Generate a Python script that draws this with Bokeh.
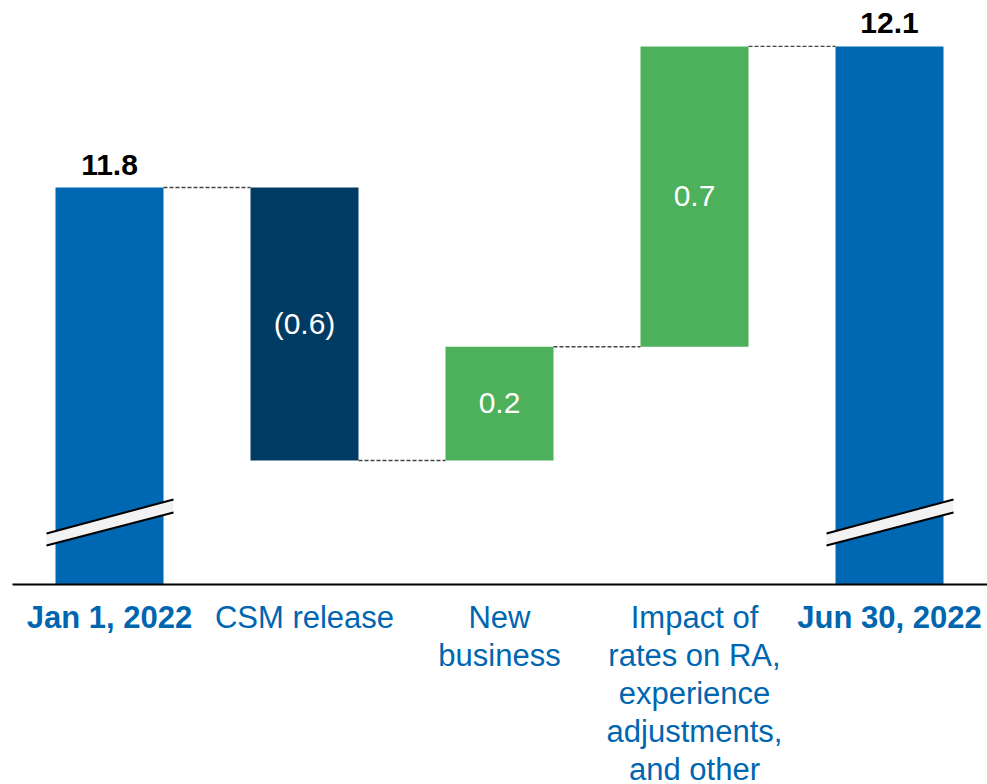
from bokeh.plotting import figure
from bokeh.models import Range1d
from bokeh.core.properties import value
from bokeh.embed import file_html
from bokeh.resources import INLINE

# ---- data ----
categories = ["Jan 1, 2022", "CSM release", "New\nbusiness",
              "Impact of\nrates on RA,\nexperience\nadjustments,\nand other",
              "Jun 30, 2022"]
start_value = 11.8
deltas = [-0.60, 0.25, 0.66]
end_value = 12.11
value_labels = ["11.8", "(0.6)", "0.2", "0.7", "12.1"]
bold_category = [True, False, False, False, True]

# ---- layout constants (pixels) ----
W, H = 987, 784
SCALE = 455.0          # px per unit
TOP_PX = 187.0         # pixel of start_value top
AXIS_PX = 584.0
X0_PX, DX_PX = 109.0, 195.0

y_top = start_value + TOP_PX / SCALE
y_bot = y_top - H / SCALE
base = y_top - AXIS_PX / SCALE

def px_x(px):
    return (px - X0_PX) / DX_PX

def px_y(py):
    return y_top - py / SCALE

BLUE = "#0067B2"
NAVY = "#003B64"
GREEN = "#4CB15A"
TXT_BLUE = "#0066B0"
FONT = value("Liberation Sans")

p = figure(width=W, height=H, output_backend="svg", toolbar_location=None,
           x_axis_type=None, y_axis_type=None, min_border=0,
           x_range=Range1d(px_x(0), px_x(W)), y_range=Range1d(y_bot, y_top))
p.outline_line_color = None
p.grid.visible = False
p.background_fill_color = "white"

# waterfall geometry
xs = list(range(len(categories)))
bottoms, tops, colors = [], [], []
bottoms.append(base); tops.append(start_value); colors.append(BLUE)
level = start_value
for d in deltas:
    new = level + d
    bottoms.append(min(level, new)); tops.append(max(level, new))
    colors.append(GREEN if d > 0 else NAVY)
    level = new
bottoms.append(base); tops.append(end_value); colors.append(BLUE)

BW = 108.0 / DX_PX
p.vbar(x=xs, width=BW, bottom=bottoms, top=tops, fill_color=colors, line_color=None)

# connectors
levels = [start_value]
lv = start_value
for d in deltas:
    lv += d
    levels.append(lv)
cx0 = [i + BW / 2 for i in range(4)]
cx1 = [i + 1 - BW / 2 for i in range(4)]
cy = [levels[0], levels[1], levels[2], end_value]
p.segment(x0=cx0, y0=cy, x1=cx1, y1=cy, line_color="#444444", line_width=1.3, line_dash="4 2")

# axis line
p.segment(x0=[px_x(12)], y0=[base], x1=[px_x(W)], y1=[base], line_color="black", line_width=2)

# breaks on the two total bars
for i in (0, 4):
    lx, rx = i - 63 / DX_PX, i + 64 / DX_PX
    lt, lb = px_y(533), px_y(545)
    rt, rb = px_y(499), px_y(512)
    p.patch(x=[lx, rx, rx, lx], y=[lt, rt, rb, lb], fill_color="#F2F2F2", line_color=None)
    p.line(x=[lx, rx], y=[lt, rt], line_color="black", line_width=2)
    p.line(x=[lx, rx], y=[lb, rb], line_color="black", line_width=2)

# value labels on totals (above bars)
p.text(x=[0, 4], y=[start_value, end_value], text=[value_labels[0], value_labels[4]],
       text_font=FONT, text_font_size="30px", text_font_style="bold", text_color="black",
       text_align="center", text_baseline="bottom", y_offset=-13)

# inner labels
mids = [(bottoms[i] + tops[i]) / 2 for i in (1, 2, 3)]
p.text(x=[1, 2, 3], y=mids, text=value_labels[1:4], text_font=FONT, text_font_size="30px",
       text_color="white", text_align="center", text_baseline="middle", y_offset=-1)

# category labels
for i, (cat, b) in enumerate(zip(categories, bold_category)):
    p.text(x=[i], y=[base], text=[cat], text_font=FONT, text_font_size="31px",
           text_font_style="bold" if b else "normal", text_color=TXT_BLUE,
           text_align="center", text_baseline="top", text_line_height=1.09, y_offset=15)

open("out.html", "w").write(file_html(p, INLINE))
